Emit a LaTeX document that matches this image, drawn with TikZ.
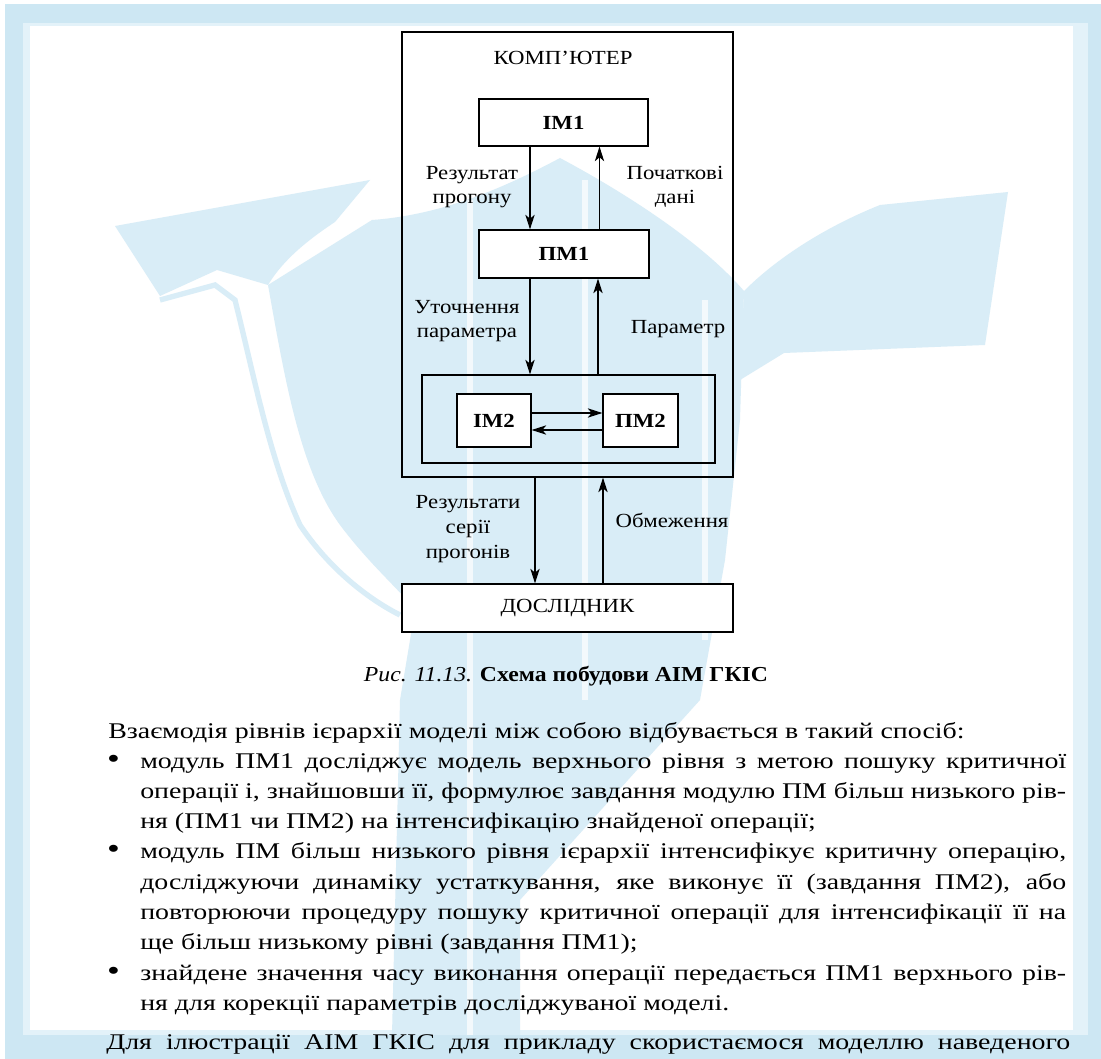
\documentclass[tikz,border=0pt]{standalone}
\usepackage{fontspec}
\setmainfont{Liberation Serif}
\newfontfamily\bodyfam{Liberation Serif}[FakeStretch=1.245]
\newfontfamily\capfam{Liberation Serif}[FakeStretch=1.11]
\newfontfamily\diagfam{Liberation Serif}[FakeStretch=1.14]
\usetikzlibrary{arrows.meta}
\definecolor{frameblue}{HTML}{CDE7F3}
\definecolor{framelight}{HTML}{E3F2F9}
\definecolor{wmblue}{HTML}{D9EDF7}
\newcommand{\bodyfont}{\bodyfam\fontsize{16.8}{19}\selectfont}
\newcommand{\labfont}{\diagfam\fontsize{15}{18}\selectfont}
\newcommand{\jline}[1]{\makebox[694.5pt][s]{#1}}
\begin{document}
\begin{tikzpicture}[x=0.75pt,y=-0.75pt,
  box/.style={draw,line width=0.9pt,fill=white,inner sep=0pt},
  frame/.style={draw,line width=0.9pt,inner sep=0pt},
  lab/.style={font=\labfont,align=center,inner sep=0pt},
  bold/.style={font=\labfont\bfseries},
  arr/.style={line width=0.9pt,-{Stealth[length=11pt,width=7pt,inset=3pt]}},
  textline/.style={anchor=base west,inner sep=0pt,font=\bodyfont},
  bul/.style={anchor=center,inner sep=0pt,font=\bodyfam\fontsize{22}{22}\selectfont},
  wm/.style={fill=wmblue}]
\useasboundingbox (0,0) rectangle (1101,1059);

% page frame
\fill[white] (0,0) rectangle (1101,1059);
\fill[frameblue] (5,4) rectangle (1101,1059);
\fill[framelight] (23,23) rectangle (1088,1035);
\fill[white] (30,26) rectangle (1073,1030);

% faded emblem in the background
\begin{scope}
\clip (30,26) rectangle (1073,1035);
% left wing
\fill[wm] (115,226) -- (370,180) -- (335,222) .. controls (300,245) and (280,265) .. (268,285)
  -- (217,270) -- (160,296) -- cycle;
% central body
\fill[wm] (268,285) .. controls (285,380) and (300,470) .. (340,525)
  .. controls (370,565) and (400,590) .. (415,610)
  -- (400,700) -- (392,1035) -- (520,1035) -- (520,900)
  -- (700,700) -- (725,560) -- (740,420) -- (744,291)
  .. controls (700,240) and (620,190) .. (560,158)
  .. controls (500,190) and (440,215) .. (372,220) -- cycle;
% right wing
\fill[wm] (744,291) .. controls (780,255) and (830,225) .. (880,205)
  -- (1008,192) -- (985,345) -- (784,353) -- (740,380) -- cycle;
% thin outline beside the left body edge
\draw[wmblue,line width=4pt] (160,300) -- (215,285) -- (235,300)
  .. controls (255,380) and (270,460) .. (300,525)
  .. controls (330,570) and (370,600) .. (400,615);
% light streaks through the body
\draw[white,line width=5pt,opacity=0.7] (470,200) -- (470,1035);
\draw[white,line width=4pt,opacity=0.7] (585,180) -- (585,700);
\draw[white,line width=4pt,opacity=0.7] (705,300) -- (705,640);
\draw[white,line width=3pt,opacity=0.8] (784,364) -- (958,364);
\end{scope}

% computer block
\node[frame,minimum width={331*0.75pt},minimum height={445*0.75pt}] (comp) at (567.5,254.5) {};
\node[lab] (comptitle) at (563,58) {КОМП’ЮТЕР};
\node[box,bold,minimum width={169*0.75pt},minimum height={47*0.75pt}] (im1) at (563.5,122.5) {ІМ1};
\node[box,bold,minimum width={170*0.75pt},minimum height={48*0.75pt}] (pm1) at (564,254) {ПМ1};
\node[frame,minimum width={293*0.75pt},minimum height={88*0.75pt}] (cont) at (568.5,419) {};
\node[box,bold,minimum width={74*0.75pt},minimum height={53*0.75pt}] (im2) at (494,420.5) {ІМ2};
\node[box,bold,minimum width={75*0.75pt},minimum height={53*0.75pt}] (pm2) at (640.5,420.5) {ПМ2};
\node[box,font=\labfont,minimum width={331*0.75pt},minimum height={48*0.75pt}] (res) at (567.5,608) {ДОСЛІДНИК};

% connectors
\draw[arr] ([xshift=-33.5*0.75pt]im1.south) -- ([xshift=-33.5*0.75pt]im1.south |- pm1.north);
\draw[arr] ([xshift=35.5*0.75pt]pm1.north) -- ([xshift=35.5*0.75pt]pm1.north |- im1.south);
\draw[arr] ([xshift=-34*0.75pt]pm1.south) -- ([xshift=-34*0.75pt]pm1.south |- cont.north);
\draw[arr] ([xshift=34*0.75pt]pm1.south |- cont.north) -- ([xshift=34*0.75pt]pm1.south);
\draw[arr] ([yshift=7.5*0.75pt]im2.east) -- ([yshift=7.5*0.75pt]im2.east -| pm2.west);
\draw[arr] ([yshift=-9.5*0.75pt]pm2.west) -- ([yshift=-9.5*0.75pt]pm2.west -| im2.east);
\draw[arr] ([xshift=-32.5*0.75pt]comp.south) -- ([xshift=-32.5*0.75pt]comp.south |- res.north);
\draw[arr] ([xshift=35.5*0.75pt]res.north) -- ([xshift=35.5*0.75pt]res.north |- comp.south);

% connector labels
\node[lab] (l1) at (472,187) {Результат\\прогону};
\node[lab] (l2) at (675,187) {Початкові\\дані};
\node[lab] (l3) at (467,321) {Уточнення\\параметра};
\node[lab] (l4) at (678,329) {Параметр};
\node[lab,align=center] (l5) at (468,529) {Результати\\[1pt]серії\\[1pt]прогонів};
\node[lab] (l6) at (672,520) {Обмеження};

% caption
\node[anchor=base,inner sep=0pt,font=\capfam\fontsize{16}{19}\selectfont] (cap) at (566,681)
  {\textit{Рис. 11.13.} \textbf{Схема побудови АІМ ГКІС}};

% running text
\node[textline] (t1) at (108,738) {Взаємодія рівнів ієрархії моделі між собою відбувається в такий спосіб:};
\node[bul] (b1) at (113.5,762) {•};
\node[textline] (t2) at (140,768) {\jline{модуль ПМ1 досліджує модель верхнього рівня з метою пошуку критичної}};
\node[textline] (t3) at (140,798) {\jline{операції і, знайшовши її, формулює завдання модулю ПМ більш низького рів-}};
\node[textline] (t4) at (140,828) {ня (ПМ1 чи ПМ2) на інтенсифікацію знайденої операції;};
\node[bul] (b2) at (113.5,852) {•};
\node[textline] (t5) at (140,858) {\jline{модуль ПМ більш низького рівня ієрархії інтенсифікує критичну операцію,}};
\node[textline] (t6) at (140,889) {\jline{досліджуючи динаміку устаткування, яке виконує її (завдання ПМ2), або}};
\node[textline] (t7) at (140,919) {\jline{повторюючи процедуру пошуку критичної операції для інтенсифікації її на}};
\node[textline] (t8) at (140,949) {ще більш низькому рівні (завдання ПМ1);};
\node[bul] (b3) at (113.5,974) {•};
\node[textline] (t9) at (140,980) {\jline{знайдене значення часу виконання операції передається ПМ1 верхнього рів-}};
\node[textline] (t10) at (140,1010) {ня для корекції параметрів досліджуваної моделі.};
\node[textline] (t11) at (106,1049) {\makebox[723pt][s]{Для ілюстрації АІМ ГКІС для прикладу скористаємося моделлю наведеного}};
\end{tikzpicture}
\end{document}
